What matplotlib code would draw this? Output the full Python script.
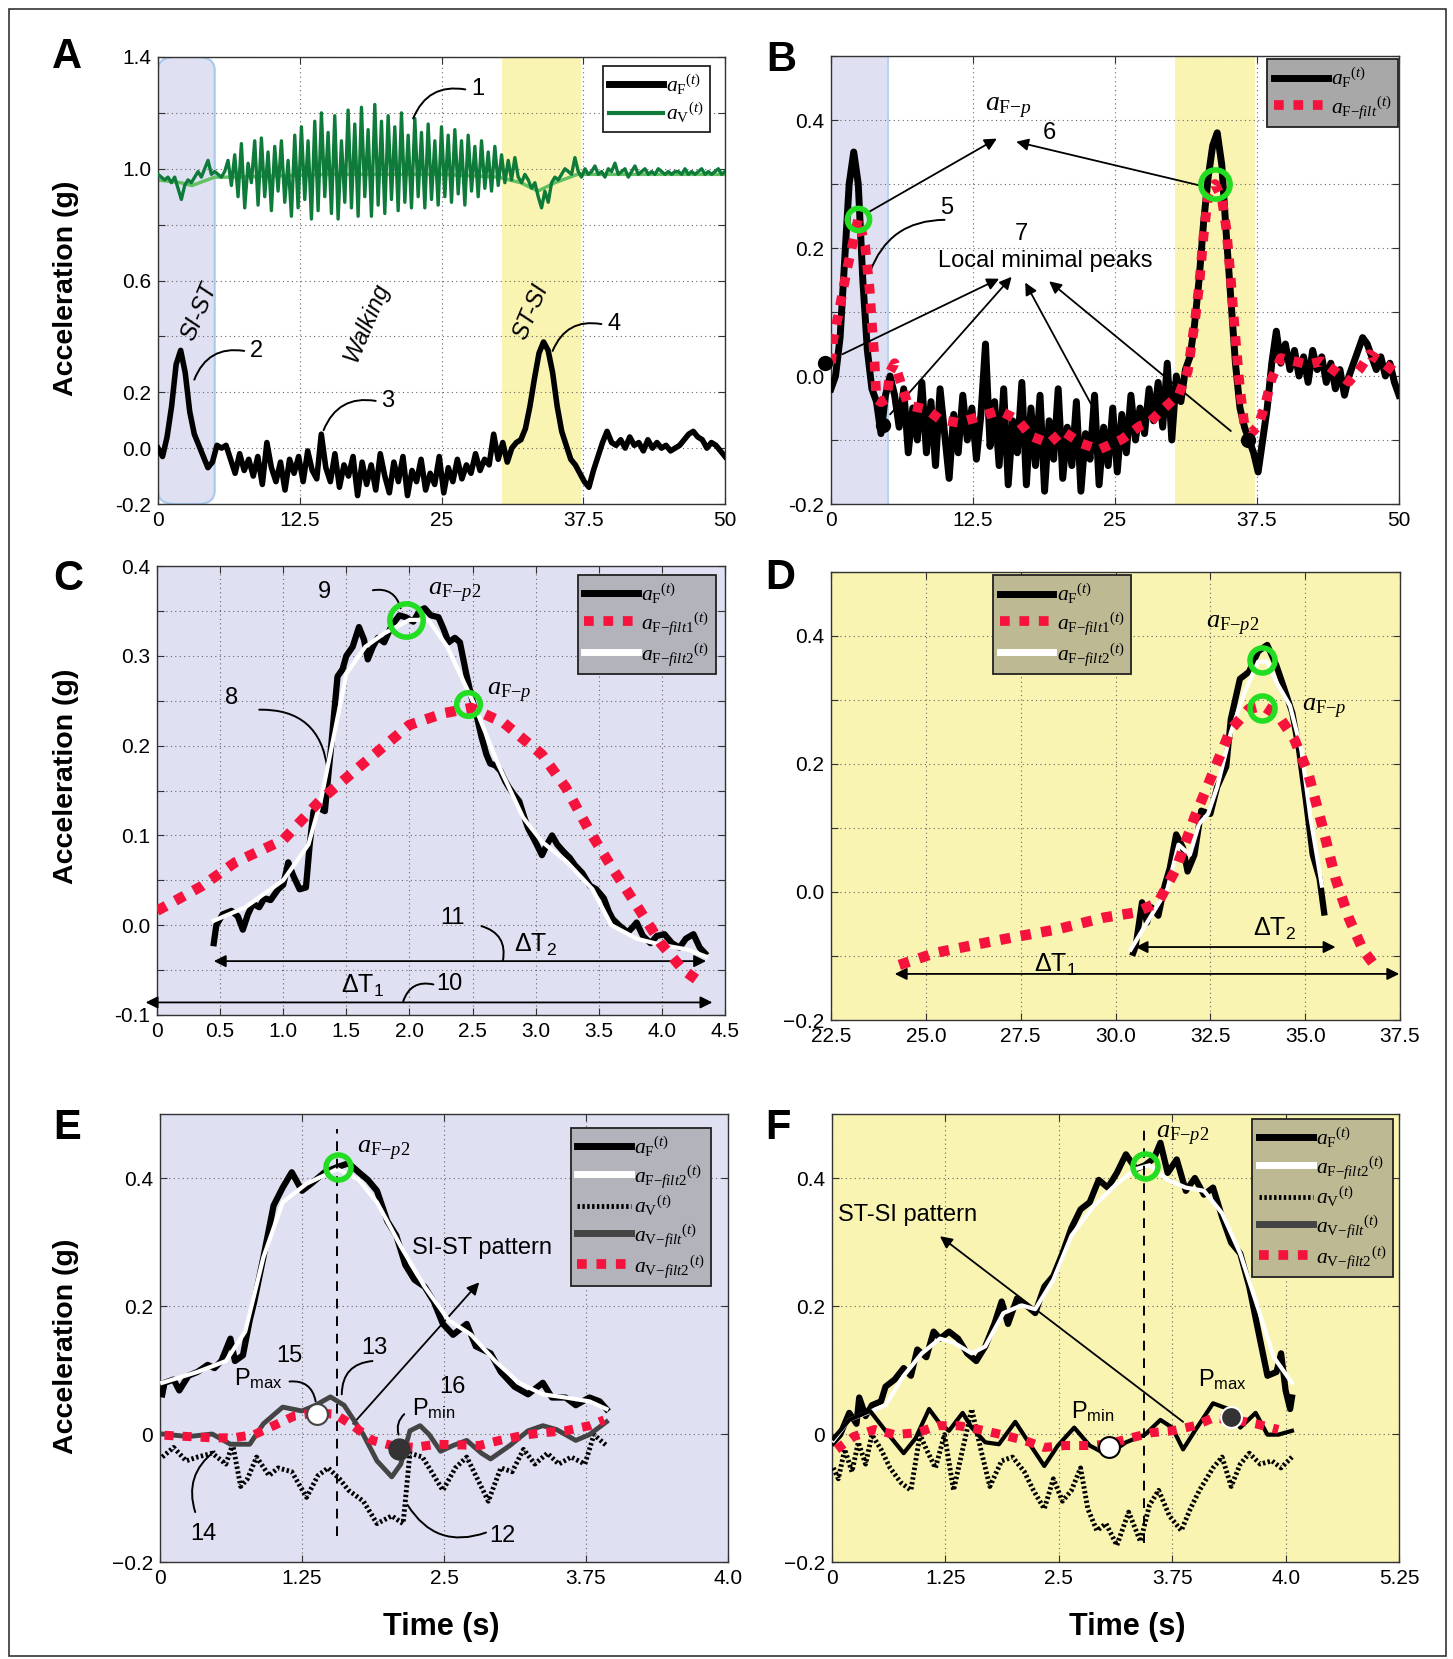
import numpy as np
import matplotlib
matplotlib.use("Agg")
import matplotlib.pyplot as plt
from matplotlib.lines import Line2D
from matplotlib.patches import Rectangle, FancyBboxPatch

# === FONTS ===
plt.rcParams["font.family"] = ["Liberation Sans", "DejaVu Sans"]
plt.rcParams["mathtext.fontset"] = "custom"
plt.rcParams["mathtext.rm"] = "Liberation Serif"
plt.rcParams["mathtext.it"] = "Liberation Serif:italic"
plt.rcParams["mathtext.bf"] = "Liberation Serif:bold"
NARROW = ["Liberation Sans Narrow", "Liberation Sans", "DejaVu Sans"]

# === COLORS ===
RED = "#f5133e"
GREEN = "#0f7b3a"
LGREEN = "#63c163"
LIME = "#22dd22"
LAVENDER = "#dfe1f3"
YELLOW = "#f9f4b1"
DARK = "#444444"
DOTS = (0, (1, 1))

# === DATA: panel A (0-50 s, uniform sampling) ===
a_af = [0.0, -0.03, 0.04, 0.15, 0.3, 0.35, 0.27, 0.13, 0.05, 0.01,
        -0.03, -0.07, -0.05, 0.01, 0.0, 0.01, -0.04, -0.09, -0.02, -0.08,
        -0.04, -0.1, -0.03, -0.13, 0.02, -0.07, -0.12, -0.05, -0.15, -0.04,
        -0.09, -0.03, -0.12, -0.01, -0.08, -0.11, 0.05, -0.07, -0.12, -0.02,
        -0.14, -0.06, -0.1, -0.03, -0.17, -0.05, -0.13, -0.06, -0.15, -0.02,
        -0.1, -0.16, -0.05, -0.12, -0.03, -0.17, -0.08, -0.12, -0.04, -0.15,
        -0.09, -0.13, -0.03, -0.16, -0.07, -0.12, -0.04, -0.11, -0.06, -0.09,
        -0.02, -0.08, -0.04, -0.06, 0.05, -0.04, 0.02, -0.05, 0.0, 0.02,
        0.03, 0.07, 0.15, 0.25, 0.34, 0.38, 0.35, 0.27, 0.15, 0.06,
        0.01, -0.04, -0.06, -0.09, -0.12, -0.14, -0.08, -0.03, 0.02, 0.06,
        0.02, 0.01, 0.03, 0.0, 0.04, 0.01, 0.02, -0.01, 0.03, 0.0,
        0.02, 0.0, 0.01, -0.01, 0.0, 0.01, 0.03, 0.05, 0.06, 0.04,
        0.03, 0.0, 0.02, 0.01, -0.01, -0.03]
a_av = [0.98, 0.97, 0.96, 0.97, 0.95, 0.97, 0.93, 0.89, 0.94, 0.96,
        0.95, 0.97, 0.99, 0.97, 1.0, 1.03, 0.98, 0.99, 0.98, 0.97,
        0.99, 1.03, 0.94, 1.05, 0.9, 1.09, 0.86, 1.02,
        0.95, 1.1, 0.87, 1.11, 0.9, 1.06, 0.85,
        1.08, 0.92, 1.1, 0.88, 1.03, 0.83, 1.12,
        0.86, 1.15, 0.89, 1.1, 0.82, 1.17, 0.85,
        1.2, 0.9, 1.13, 0.84, 1.19, 0.82, 1.1,
        0.88, 1.21, 0.86, 1.16, 0.83, 1.22, 0.9,
        1.14, 0.83, 1.23, 0.87, 1.17, 0.84, 1.19,
        0.89, 1.15, 0.85, 1.2, 0.88, 1.12, 0.86,
        1.18, 0.9, 1.13, 0.86, 1.16, 0.89, 1.1,
        0.87, 1.15, 0.9, 1.12, 0.88, 1.14, 0.91,
        1.1, 0.87, 1.12, 0.92, 1.08, 0.9, 1.1,
        0.93, 1.06, 0.92, 1.08, 0.94, 1.05, 0.95, 1.03, 0.96, 1.04,
        0.97, 0.95, 0.98, 0.96, 0.93, 0.95, 0.9, 0.86, 0.92, 0.88,
        0.95, 0.97, 0.96, 0.98, 1.0, 0.99, 0.98, 1.04, 0.99, 0.97,
        1.0, 0.98, 0.99, 1.01, 0.98, 0.99, 0.97, 1.0, 0.99, 1.02,
        0.98, 0.99, 1.0, 0.97, 0.99, 1.01, 0.98, 0.99, 1.0, 0.98,
        0.99, 0.98, 1.0, 0.99, 0.98, 0.99, 0.98, 0.99, 0.99, 0.98,
        1.0, 0.98, 0.99, 0.98, 0.99, 1.0, 0.98, 0.99, 0.98, 0.99,
        1.0, 0.98, 0.99]
a_avs_t = [0, 2, 3, 5, 7, 15, 25, 30, 32, 33.5, 35, 37, 40, 50]
a_avs = [0.96, 0.95, 0.94, 0.97, 0.97, 0.98, 0.98, 0.97, 0.95, 0.92, 0.95, 0.98, 0.98, 0.98]

# === DATA: panel B ===
b_af = [-0.02, 0.0, 0.06, 0.18, 0.3, 0.35, 0.3, 0.15, 0.04, -0.02,
        -0.04, -0.09, -0.03, 0.0, -0.03, -0.08, -0.02, -0.12, -0.05, -0.1,
        -0.01, -0.12, -0.04, -0.14, -0.02, -0.09, -0.16, -0.06, -0.12, -0.03,
        -0.1, -0.05, -0.13, -0.06, 0.05, -0.11, -0.04, -0.14, -0.02, -0.17,
        -0.07, -0.12, -0.01, -0.17, -0.05, -0.14, -0.03, -0.18, -0.07, -0.13,
        -0.02, -0.16, -0.08, -0.14, -0.04, -0.18, -0.09, -0.13, -0.03, -0.17,
        -0.08, -0.14, -0.05, -0.15, -0.06, -0.12, -0.03, -0.1, -0.05, -0.09,
        -0.02, -0.07, -0.01, -0.08, 0.02, -0.1, 0.0, -0.04, 0.01, 0.03,
        0.08, 0.15, 0.24, 0.31, 0.36, 0.38, 0.33, 0.22, 0.12, 0.02,
        -0.05, -0.08, -0.1, -0.12, -0.15, -0.1, -0.05, 0.02, 0.07, 0.02,
        0.05, 0.01, 0.04, 0.0, 0.03, -0.01, 0.04, 0.01, 0.03, -0.01,
        0.02, -0.02, 0.01, -0.03, 0.0, 0.02, 0.04, 0.06, 0.05, 0.03,
        0.01, 0.03, 0.0, 0.02, -0.01, -0.03]
b_filt_t = [0.0, 0.2, 0.6, 1.0, 1.4, 1.8, 2.4, 3.0, 3.4, 3.6, 3.8, 4.0, 4.4, 4.9, 5.2, 5.6,
            6.2, 6.8, 8.4, 9.6, 11.2, 12.8, 14.8, 16.4, 17.6, 19.2, 20.4, 22.0, 23.6,
            25.6, 27.2, 28.0, 29.2, 30.6, 31.4, 32.0, 32.4, 32.8, 33.2, 33.8, 34.4,
            34.8, 35.2, 35.6, 36.0, 36.4, 37.0, 37.6, 38.2, 38.8, 39.6, 40.8, 42.0,
            43.2, 44.4, 45.6, 46.6, 47.4, 48.4, 49.6]
b_filt = [0.02, 0.057, 0.092, 0.129, 0.166, 0.198, 0.246, 0.204, 0.135, 0.081, 0.034,
          -0.036, -0.041, -0.036, 0.007, 0.02, -0.014, -0.046, -0.052, -0.068, -0.073,
          -0.065, -0.054, -0.068, -0.094, -0.105, -0.086, -0.105, -0.115, -0.099,
          -0.078, -0.073, -0.052, -0.03, 0.007, 0.081, 0.14, 0.22, 0.283, 0.3, 0.278,
          0.23, 0.15, 0.06, -0.02, -0.078, -0.089, -0.078, -0.046, -0.004, 0.028,
          0.023, 0.018, 0.023, 0.007, -0.009, 0.012, 0.034, 0.023, 0.007]
b_peak_t = [2.4, 33.8]
b_peak_v = [0.246, 0.3]
b_min_t = [-0.5, 4.6, 36.7]
b_min_v = [0.02, -0.076, -0.1]

# === DATA: panel C (SI-ST, 0-4.5 s) ===
c_af_t = [0.45, 0.47, 0.52, 0.59, 0.64, 0.68, 0.72, 0.76, 0.81, 0.85, 0.9, 0.96, 1.0,
          1.04, 1.08, 1.13, 1.18, 1.21, 1.24, 1.29, 1.33, 1.38, 1.43, 1.47, 1.5, 1.55,
          1.6, 1.64, 1.67, 1.71, 1.75, 1.8, 1.86, 1.92, 1.97, 2.03, 2.08, 2.12, 2.17,
          2.23, 2.27, 2.31, 2.36, 2.4, 2.45, 2.49, 2.53, 2.57, 2.61, 2.64, 2.68, 2.72,
          2.76, 2.79, 2.83, 2.87, 2.91, 2.94, 2.99, 3.05, 3.09, 3.13, 3.17, 3.22, 3.27,
          3.31, 3.37, 3.43, 3.48, 3.54, 3.58, 3.61, 3.66, 3.73, 3.77, 3.8, 3.85, 3.91,
          3.96, 4.02, 4.08, 4.14, 4.19, 4.25, 4.3, 4.34]
c_af = [-0.02, 0.0, 0.012, 0.016, 0.01, -0.005, 0.012, 0.024, 0.02, 0.03, 0.028, 0.04,
        0.045, 0.07, 0.055, 0.04, 0.042, 0.09, 0.127, 0.13, 0.127, 0.2, 0.277, 0.285,
        0.3, 0.31, 0.332, 0.318, 0.296, 0.31, 0.32, 0.315, 0.334, 0.345, 0.343, 0.338,
        0.35, 0.353, 0.345, 0.343, 0.33, 0.315, 0.32, 0.315, 0.28, 0.255, 0.235, 0.21,
        0.19, 0.18, 0.178, 0.172, 0.16, 0.153, 0.145, 0.138, 0.12, 0.108, 0.095, 0.078,
        0.09, 0.1, 0.09, 0.082, 0.075, 0.067, 0.058, 0.044, 0.04, 0.03, 0.015, 0.007,
        0.0, -0.008, -0.002, 0.003, -0.012, -0.02, -0.012, -0.01, -0.02, -0.025,
        -0.015, -0.01, -0.025, -0.031]
c_f2_t = [0.45, 0.7, 1.0, 1.2, 1.3, 1.4, 1.5, 1.65, 1.8, 2.0, 2.15, 2.3, 2.5, 2.7, 2.9,
          3.05, 3.25, 3.45, 3.6, 3.8, 4.0, 4.2, 4.35]
c_f2 = [0.005, 0.02, 0.05, 0.09, 0.14, 0.21, 0.28, 0.31, 0.325, 0.34, 0.34, 0.31, 0.25,
        0.18, 0.12, 0.093, 0.07, 0.04, 0.0, -0.015, -0.022, -0.027, -0.035]
c_f1_t = [0.0, 0.36, 0.62, 1.0, 1.3, 1.6, 2.0, 2.27, 2.49, 2.75, 3.05, 3.24, 3.43, 3.61,
          3.8, 3.99, 4.17, 4.32]
c_f1 = [0.016, 0.044, 0.07, 0.095, 0.14, 0.176, 0.223, 0.236, 0.242, 0.225, 0.19, 0.153,
        0.104, 0.063, 0.022, -0.02, -0.05, -0.065]
c_peak_t = [1.97, 2.46]
c_peak_v = [0.34, 0.246]

# === DATA: panel D (ST-SI, 22.5-37.5 s) ===
d_af_t = [30.47, 30.53, 30.7, 30.83, 30.95, 31.13, 31.3, 31.43, 31.6, 31.78, 31.9, 32.08,
          32.26, 32.5, 32.68, 32.92, 33.04, 33.28, 33.52, 33.76, 34.0, 34.24, 34.42,
          34.66, 34.84, 35.02, 35.2, 35.38, 35.5]
d_af = [-0.095, -0.085, -0.016, -0.048, -0.024, -0.037, 0.011, 0.037, 0.09, 0.069, 0.032,
        0.058, 0.127, 0.122, 0.164, 0.196, 0.27, 0.333, 0.344, 0.376, 0.386, 0.354, 0.323,
        0.28, 0.222, 0.143, 0.058, 0.021, -0.032]
d_f2_t = [30.4, 30.89, 31.37, 31.66, 31.96, 32.2, 32.44, 32.68, 33.04, 33.4, 33.76, 34.0,
          34.24, 34.6, 34.9, 35.14, 35.44]
d_f2 = [-0.09, -0.042, 0.005, 0.074, 0.058, 0.106, 0.122, 0.164, 0.249, 0.312, 0.36,
        0.36, 0.328, 0.291, 0.222, 0.116, 0.01]
d_f1_t = [24.3, 25.26, 26.33, 27.29, 28.49, 29.69, 30.53, 31.13, 31.6, 32.08, 32.56, 33.04,
          33.52, 33.88, 34.3, 34.72, 35.08, 35.44, 35.8, 36.16, 36.52, 36.82]
d_f1 = [-0.114, -0.095, -0.082, -0.071, -0.058, -0.04, -0.032, -0.016, 0.037, 0.116,
        0.185, 0.254, 0.286, 0.291, 0.275, 0.238, 0.185, 0.106, 0.021, -0.042, -0.09, -0.114]
d_peak_t = [33.85, 33.85]
d_peak_v = [0.363, 0.287]

# === DATA: panel E (SI-ST pattern) ===
e_af_t = [0.02, 0.04, 0.12, 0.17, 0.25, 0.33, 0.42, 0.48, 0.54, 0.62, 0.66, 0.73, 0.79,
          0.83, 0.91, 1.0, 1.08, 1.16, 1.25, 1.33, 1.45, 1.56, 1.66, 1.75, 1.83, 1.91,
          2.0, 2.08, 2.16, 2.24, 2.33, 2.41, 2.49, 2.58, 2.7, 2.78, 2.91, 3.0, 3.12,
          3.24, 3.37, 3.45, 3.57, 3.66, 3.78, 3.87, 3.93]
e_af = [0.062, 0.08, 0.085, 0.068, 0.091, 0.097, 0.108, 0.103, 0.114, 0.149, 0.114, 0.123,
        0.178, 0.207, 0.276, 0.357, 0.385, 0.409, 0.38, 0.391, 0.409, 0.417, 0.423, 0.409,
        0.397, 0.38, 0.333, 0.31, 0.264, 0.241, 0.23, 0.207, 0.172, 0.155, 0.172, 0.137,
        0.126, 0.097, 0.074, 0.062, 0.08, 0.057, 0.057, 0.045, 0.057, 0.051, 0.039]
e_f2_t = [0.02, 0.33, 0.58, 0.75, 0.91, 1.08, 1.29, 1.56, 1.75, 1.91, 2.12, 2.33, 2.54,
          2.74, 2.95, 3.16, 3.37, 3.57, 3.78, 3.93]
e_f2 = [0.08, 0.097, 0.114, 0.16, 0.276, 0.362, 0.391, 0.414, 0.397, 0.362, 0.293, 0.23,
        0.178, 0.155, 0.114, 0.08, 0.062, 0.057, 0.051, 0.039]
e_av_t = [0.02, 0.12, 0.23, 0.33, 0.46, 0.58, 0.64, 0.71, 0.77, 0.85, 0.96, 1.04, 1.16,
          1.29, 1.39, 1.48, 1.58, 1.66, 1.79, 1.91, 2.04, 2.14, 2.2, 2.31, 2.39, 2.49,
          2.6, 2.7, 2.78, 2.89, 3.0, 3.1, 3.2, 3.3, 3.41, 3.51, 3.62, 3.74, 3.82, 3.93]
e_av = [-0.036, -0.021, -0.042, -0.036, -0.03, -0.047, -0.016, -0.082, -0.07, -0.036,
        -0.065, -0.053, -0.059, -0.099, -0.065, -0.053, -0.07, -0.088, -0.105, -0.14,
        -0.128, -0.14, -0.03, -0.036, -0.059, -0.088, -0.053, -0.036, -0.065, -0.105,
        -0.053, -0.059, -0.024, -0.047, -0.03, -0.047, -0.036, -0.047, -0.001, -0.018]
e_vf_t = [0.02, 0.25, 0.46, 0.62, 0.79, 0.91, 1.08, 1.25, 1.37, 1.5, 1.62, 1.79, 1.91,
          2.04, 2.12, 2.2, 2.29, 2.37, 2.47, 2.58, 2.7, 2.83, 2.91, 3.08, 3.24, 3.37,
          3.49, 3.66, 3.78, 3.93]
e_vf = [0.0, -0.004, 0.0, -0.016, -0.016, 0.016, 0.042, 0.036, 0.045, 0.058, 0.045,
        -0.001, -0.042, -0.067, -0.047, 0.005, 0.013, -0.001, -0.027, -0.018, -0.01,
        -0.03, -0.039, -0.018, 0.005, 0.013, 0.007, -0.01, -0.001, 0.019]
e_vf2_t = [0.04, 0.25, 0.46, 0.64, 0.83, 1.0, 1.18, 1.37, 1.54, 1.7, 1.87, 2.04, 2.24,
           2.43, 2.62, 2.81, 2.99, 3.2, 3.37, 3.57, 3.78, 3.91]
e_vf2 = [-0.002, -0.004, -0.006, -0.006, -0.001, 0.013, 0.028, 0.033, 0.031, 0.013, -0.01,
         -0.018, -0.021, -0.016, -0.017, -0.018, -0.01, -0.002, 0.002, 0.005, 0.013, 0.022]
e_peak_t, e_peak_v = 1.57, 0.417
e_pmax_t, e_pmax_v = 1.38, 0.031
e_pmin_t, e_pmin_v = 2.1, -0.024
e_vline = (1.56, -0.16, 0.477)

# === DATA: panel F (ST-SI pattern) ===
f_af_t = [0.015, 0.09, 0.19, 0.27, 0.3, 0.37, 0.44, 0.54, 0.59, 0.69, 0.79, 0.87, 0.94,
          1.04, 1.12, 1.19, 1.29, 1.39, 1.49, 1.59, 1.69, 1.79, 1.87, 1.94, 2.04, 2.14,
          2.24, 2.34, 2.44, 2.54, 2.64, 2.74, 2.84, 2.94, 3.04, 3.14, 3.24, 3.35, 3.45,
          3.55, 3.62, 3.7, 3.8, 3.9, 4.0, 4.1, 4.2, 4.3, 4.4, 4.5, 4.6, 4.7, 4.8, 4.9,
          4.95, 5.0, 5.05, 5.07]
f_af = [-0.013, -0.001, 0.033, 0.016, 0.057, 0.028, 0.045, 0.051, 0.074, 0.085, 0.103,
        0.091, 0.132, 0.12, 0.16, 0.149, 0.16, 0.149, 0.126, 0.114, 0.137, 0.172, 0.207,
        0.172, 0.212, 0.201, 0.189, 0.23, 0.247, 0.282, 0.322, 0.351, 0.362, 0.397, 0.385,
        0.408, 0.437, 0.414, 0.42, 0.431, 0.455, 0.408, 0.429, 0.38, 0.4, 0.374, 0.385,
        0.339, 0.299, 0.282, 0.23, 0.16, 0.091, 0.097, 0.126, 0.068, 0.039, 0.057]
f_f2_t = [0.015, 0.19, 0.39, 0.59, 0.79, 0.99, 1.19, 1.34, 1.54, 1.69, 1.89, 2.09, 2.24,
          2.44, 2.64, 2.89, 3.14, 3.35, 3.5, 3.7, 3.9, 4.1, 4.3, 4.5, 4.7, 4.87, 5.07]
f_f2 = [-0.01, 0.022, 0.033, 0.045, 0.091, 0.126, 0.149, 0.143, 0.126, 0.137, 0.189,
        0.201, 0.195, 0.241, 0.31, 0.357, 0.391, 0.414, 0.42, 0.397, 0.385, 0.38, 0.345,
        0.282, 0.195, 0.12, 0.08]
f_av_t = [0.015, 0.07, 0.14, 0.22, 0.29, 0.37, 0.44, 0.54, 0.64, 0.76, 0.87, 0.97, 1.04,
          1.14, 1.24, 1.34, 1.44, 1.54, 1.64, 1.74, 1.87, 1.99, 2.12, 2.22, 2.34, 2.44,
          2.54, 2.64, 2.74, 2.82, 2.92, 3.02, 3.14, 3.27, 3.4, 3.5, 3.6, 3.72, 3.85, 3.95,
          4.05, 4.2, 4.3, 4.4, 4.5, 4.6, 4.72, 4.85, 4.95, 5.07]
f_av = [-0.053, -0.07, -0.024, -0.059, -0.013, -0.047, -0.001, -0.024, -0.053, -0.076,
        -0.088, -0.001, -0.024, -0.053, -0.001, -0.088, -0.024, 0.039, -0.024, -0.082,
        -0.042, -0.036, -0.059, -0.088, -0.117, -0.07, -0.105, -0.088, -0.053, -0.117,
        -0.151, -0.14, -0.174, -0.122, -0.168, -0.111, -0.088, -0.128, -0.151, -0.117,
        -0.088, -0.053, -0.036, -0.082, -0.047, -0.03, -0.047, -0.042, -0.053, -0.036]
f_vf_t = [0.015, 0.19, 0.42, 0.59, 0.79, 0.92, 1.07, 1.19, 1.29, 1.44, 1.54, 1.69, 1.84,
          2.02, 2.19, 2.34, 2.49, 2.67, 2.84, 3.04, 3.24, 3.45, 3.62, 3.75, 3.87, 4.0,
          4.2, 4.37, 4.5, 4.67, 4.8, 4.92, 5.07]
f_vf = [-0.007, 0.022, 0.036, 0.005, -0.03, -0.007, 0.039, 0.016, 0.005, 0.033, 0.01,
        -0.013, -0.016, 0.019, -0.018, -0.05, -0.018, 0.01, -0.018, -0.033, -0.013, -0.001,
        0.022, 0.01, -0.024, 0.005, 0.048, 0.039, 0.01, 0.033, -0.001, -0.001, 0.005]
f_vf2_t = [0.05, 0.24, 0.47, 0.69, 0.94, 1.17, 1.39, 1.62, 1.87, 2.12, 2.34, 2.57, 2.82,
           3.04, 3.27, 3.52, 3.75, 4.0, 4.2, 4.45, 4.67, 4.92]
f_vf2 = [-0.024, -0.004, 0.007, -0.001, 0.002, 0.013, 0.013, 0.007, -0.001, -0.01, -0.021,
         -0.018, -0.018, -0.016, -0.007, 0.002, 0.005, 0.013, 0.025, 0.022, 0.016, 0.007]
f_peak_t, f_peak_v = 3.45, 0.419
f_pmin_t, f_pmin_v = 3.05, -0.021
f_pmax_t, f_pmax_v = 4.4, 0.027
f_vline = (3.44, -0.171, 0.477)

# === LABELS ===
LBL_AF = r"${a_{\mathrm{F}}}^{(t)}$"
LBL_AV = r"${a_{\mathrm{V}}}^{(t)}$"
LBL_AFF = r"${a_{\mathrm{F}\mathrm{-}filt}}^{(t)}$"
LBL_AFF1 = r"${a_{\mathrm{F}\mathrm{-}filt1}}^{(t)}$"
LBL_AFF2 = r"${a_{\mathrm{F}\mathrm{-}filt2}}^{(t)}$"
LBL_AVF = r"${a_{\mathrm{V}\mathrm{-}filt}}^{(t)}$"
LBL_AVF2 = r"${a_{\mathrm{V}\mathrm{-}filt2}}^{(t)}$"
LBL_P = r"$a_{\mathrm{F}\mathrm{-}p}$"
LBL_P2 = r"$a_{\mathrm{F}\mathrm{-}p2}$"
DT1 = r"$\mathregular{\Delta T_1}$"
DT2 = r"$\mathregular{\Delta T_2}$"
PMAX = r"$\mathregular{P_{max}}$"
PMIN = r"$\mathregular{P_{min}}$"

W, H = 1453, 1659
fig = plt.figure(figsize=(W / 100, H / 100), dpi=100)


def px_axes(x0, y0, x1, y1):
    return fig.add_axes([x0 / W, 1 - y1 / H, (x1 - x0) / W, (y1 - y0) / H])


def style(ax, xlim, xt, xl, ylim, yt, yl, bg="white"):
    ax.set_facecolor(bg)
    ax.set_xlim(*xlim)
    ax.set_ylim(*ylim)
    ax.set_xticks(xt)
    ax.set_xticklabels(xl, family=NARROW, fontsize=15)
    ax.set_yticks(yt)
    ax.set_yticklabels(yl, family=NARROW, fontsize=15)
    ax.tick_params(direction="in", top=True, right=True, length=5, color="#333", pad=5)
    ax.grid(True, ls=(0, (1, 3)), color="#666", lw=0.8)
    for s in ax.spines.values():
        s.set_color("#333")
        s.set_linewidth(1.0)


def legend(ax, handles, labels, loc, anchor, fc):
    leg = ax.legend(handles, labels, loc=loc, bbox_to_anchor=anchor, frameon=True,
                    fancybox=False, facecolor=fc, edgecolor="#222", framealpha=1,
                    fontsize=15.5, handlelength=2.5, handletextpad=0.15,
                    labelspacing=0.18, borderpad=0.3, borderaxespad=0)
    leg.get_frame().set_linewidth(1.3)
    leg.set_zorder(20)


def leader(ax, start, end, rad, lw=1.4):
    ax.annotate("", xy=end, xytext=start, annotation_clip=False,
                arrowprops=dict(arrowstyle="-", connectionstyle=f"arc3,rad={rad}",
                                color="black", lw=lw, shrinkA=0, shrinkB=0))


def arrow(ax, start, end, style="-|>", lw=1.3):
    ax.annotate("", xy=end, xytext=start, annotation_clip=False,
                arrowprops=dict(arrowstyle=style, color="black", lw=lw,
                                mutation_scale=18, shrinkA=0, shrinkB=0))


def green_circle(ax, t, v, size):
    ax.plot(t, v, "o", mfc="none", mec=LIME, mew=4, ms=size, zorder=10)


h_af = Line2D([], [], color="black", lw=5)
h_red = Line2D([], [], color=RED, lw=7, ls=DOTS, dash_capstyle="butt")
h_white = Line2D([], [], color="white", lw=5)
h_dot = Line2D([], [], color="black", lw=3.5, ls=(0, (0.5, 0.5)), dash_capstyle="butt")
h_dark = Line2D([], [], color=DARK, lw=5)

# ---------------- Panel A ----------------
axA = px_axes(158, 57, 725, 504)
style(axA, (0, 50), [0, 12.5, 25, 37.5, 50], ["0", "12.5", "25", "37.5", "50"],
      (-0.2, 1.4), np.arange(-0.2, 1.41, 0.2),
      ["-0.2", "0.0", "0.2", "", "0.6", "", "1.0", "", "1.4"])
axA.add_patch(FancyBboxPatch((0.0, 0.0), 0.1, 1.0, transform=axA.transAxes,
                             boxstyle="round,pad=0,rounding_size=0.03",
                             fc=LAVENDER, ec="#a9c8ee", lw=1.5, zorder=0.6))
axA.axvspan(30.3, 37.3, color=YELLOW, zorder=0.6, lw=0)
t_a = np.linspace(0, 50, len(a_af))
t_v = np.linspace(0, 50, len(a_av))
axA.plot(a_avs_t, a_avs, color=LGREEN, lw=2.5, zorder=2)
axA.plot(t_v, a_av, color=GREEN, lw=2.4, zorder=3)
axA.plot(t_a, a_af, color="black", lw=4, zorder=4)
legend(axA, [h_af, Line2D([], [], color=GREEN, lw=3)], [LBL_AF, LBL_AV],
       "upper right", (0.974, 0.98), "white")
for lab, s, e, txt in [("1", (27.1, 1.284), (22.5, 1.18), (27.6, 1.284)),
                       ("2", (7.6, 0.348), (3.2, 0.245), (8.1, 0.348)),
                       ("3", (19.2, 0.169), (14.6, 0.064), (19.7, 0.169)),
                       ("4", (39.1, 0.444), (34.8, 0.348), (39.6, 0.444))]:
    leader(axA, s, e, 0.4)
    axA.text(*txt, lab, fontsize=17, ha="left", va="center")
axA.text(3.6, 0.487, "SI-ST", rotation=67, style="italic", fontsize=17, ha="center", va="center")
axA.text(18.4, 0.45, "Walking", rotation=67, style="italic", fontsize=17, ha="center", va="center")
axA.text(32.9, 0.487, "ST-SI", rotation=67, style="italic", fontsize=17, ha="center", va="center")

# ---------------- Panel B ----------------
axB = px_axes(831, 56, 1399, 504)
style(axB, (0, 50), [0, 12.5, 25, 37.5, 50], ["0", "12.5", "25", "37.5", "50"],
      (-0.2, 0.5), np.arange(-0.2, 0.51, 0.1),
      ["-0.2", "", "0.0", "", "0.2", "", "0.4", ""])
axB.axvspan(0, 5.0, color=LAVENDER, zorder=0.6, lw=0)
axB.axvline(5.0, color="#b8d2f2", lw=1.5, zorder=0.7)
axB.axvspan(30.3, 37.3, color=YELLOW, zorder=0.6, lw=0)
t_b = np.linspace(0, 50, len(b_af))
axB.plot(t_b, b_af, color="black", lw=5, zorder=3)
axB.plot(b_filt_t, b_filt, color=RED, lw=7, ls=DOTS, dash_capstyle="butt", zorder=4)
axB.plot(b_min_t, b_min_v, "o", color="black", ms=10, zorder=6, clip_on=False)
green_circle(axB, b_peak_t[0], b_peak_v[0], 16)
green_circle(axB, b_peak_t[1], b_peak_v[1], 21)
legend(axB, [h_af, h_red], [LBL_AF, LBL_AFF], "upper right", (0.998, 0.993), "#a8a8a8")
axB.text(15.6, 0.42, LBL_P, fontsize=20, ha="center", va="center")
axB.text(19.2, 0.38, "6", fontsize=17, ha="center", va="center")
arrow(axB, (3.4, 0.257), (14.6, 0.371))
arrow(axB, (32.4, 0.298), (16.3, 0.366))
axB.text(10.2, 0.262, "5", fontsize=17, ha="center", va="center")
leader(axB, (10.0, 0.244), (3.4, 0.161), 0.35)
axB.text(16.8, 0.222, "7", fontsize=17, ha="center", va="center")
axB.text(18.9, 0.18, "Local minimal peaks", fontsize=17, ha="center", va="center")
for s, e in [((1.0, 0.034), (14.8, 0.152)), ((5.2, -0.06), (15.9, 0.155)),
             ((23.2, -0.054), (17.1, 0.146)), ((35.2, -0.086), (19.2, 0.148))]:
    arrow(axB, s, e)

# ---------------- Panel C ----------------
axC = px_axes(157, 566, 725, 1015)
style(axC, (0, 4.5), np.arange(0, 4.51, 0.5),
      ["0", "0.5", "1.0", "1.5", "2.0", "2.5", "3.0", "3.5", "4.0", "4.5"],
      (-0.1, 0.4), np.arange(-0.1, 0.401, 0.05),
      ["-0.1", "", "0.0", "", "0.1", "", "0.2", "", "0.3", "", "0.4"], bg=LAVENDER)
axC.plot(c_af_t, c_af, color="black", lw=4.5, zorder=3)
axC.plot(c_f2_t, c_f2, color="white", lw=3, zorder=4)
axC.plot(c_f1_t, c_f1, color=RED, lw=7.5, ls=DOTS, dash_capstyle="butt", zorder=5)
green_circle(axC, c_peak_t[0], c_peak_v[0], 24)
green_circle(axC, c_peak_t[1], c_peak_v[1], 17)
legend(axC, [h_af, h_red, h_white], [LBL_AF, LBL_AFF1, LBL_AFF2],
       "upper right", (0.984, 0.98), "#b3b4bb")
axC.text(1.33, 0.371, "9", fontsize=17, ha="center", va="center")
leader(axC, (1.71, 0.373), (1.93, 0.353), -0.45)
axC.text(2.36, 0.37, LBL_P2, fontsize=19, ha="center", va="center")
axC.text(2.79, 0.259, LBL_P, fontsize=19, ha="center", va="center")
axC.text(0.59, 0.253, "8", fontsize=17, ha="center", va="center")
leader(axC, (0.81, 0.24), (1.35, 0.174), -0.45)
axC.text(2.34, 0.008, "11", fontsize=17, ha="center", va="center")
leader(axC, (2.57, -0.001), (2.74, -0.04), -0.45)
axC.text(3.0, -0.022, DT2, fontsize=18, ha="center", va="center")
arrow(axC, (0.45, -0.04), (4.35, -0.04), style="<|-|>")
axC.text(1.63, -0.068, DT1, fontsize=18, ha="center", va="center")
axC.text(2.32, -0.066, "10", fontsize=17, ha="center", va="center")
leader(axC, (2.19, -0.066), (1.95, -0.085), 0.45)
arrow(axC, (-0.09, -0.086), (4.4, -0.086), style="<|-|>")

# ---------------- Panel D ----------------
axD = px_axes(831, 572, 1400, 1020)
style(axD, (22.5, 37.5), np.arange(22.5, 37.51, 2.5),
      ["22.5", "25.0", "27.5", "30.0", "32.5", "35.0", "37.5"],
      (-0.2, 0.5), np.arange(-0.2, 0.51, 0.1),
      ["\u22120.2", "", "0.0", "", "0.2", "", "0.4", ""], bg=YELLOW)
axD.plot(d_af_t, d_af, color="black", lw=4.5, zorder=3)
axD.plot(d_f2_t, d_f2, color="white", lw=3, zorder=4)
axD.plot(d_f1_t, d_f1, color=RED, lw=7.5, ls=DOTS, dash_capstyle="butt", zorder=5)
green_circle(axD, d_peak_t[0], d_peak_v[0], 18)
green_circle(axD, d_peak_t[1], d_peak_v[1], 18)
legend(axD, [h_af, h_red, h_white], [LBL_AF, LBL_AFF1, LBL_AFF2],
       "upper left", (0.285, 0.993), "#bdb993")
axD.text(33.1, 0.415, LBL_P2, fontsize=19, ha="center", va="center")
axD.text(35.5, 0.286, LBL_P, fontsize=19, ha="center", va="center")
arrow(axD, (30.53, -0.086), (35.8, -0.086), style="<|-|>")
axD.text(34.2, -0.058, DT2, fontsize=18, ha="center", va="center")
arrow(axD, (24.18, -0.128), (37.48, -0.128), style="<|-|>")
axD.text(28.43, -0.114, DT1, fontsize=18, ha="center", va="center")

# ---------------- Panel E ----------------
axE = px_axes(160, 1114, 728, 1562)
style(axE, (0, 5.0), [0, 1.25, 2.5, 3.75, 5.0], ["0", "1.25", "2.5", "3.75", "4.0"],
      (-0.2, 0.5), [-0.2, 0, 0.2, 0.4], ["\u22120.2", "0", "0.2", "0.4"], bg=LAVENDER)
axE.plot(e_av_t, e_av, color="black", lw=3.5, ls=(0, (0.5, 0.5)), dash_capstyle="butt", zorder=3)
axE.plot(e_af_t, e_af, color="black", lw=4.5, zorder=3)
axE.plot(e_f2_t, e_f2, color="white", lw=3, zorder=4)
axE.plot(e_vf_t, e_vf, color=DARK, lw=3.5, zorder=4)
axE.plot(e_vf2_t, e_vf2, color=RED, lw=6.5, ls=DOTS, dash_capstyle="butt", zorder=5)
axE.vlines(e_vline[0], e_vline[1], e_vline[2], colors="black", linestyles=(0, (5, 4)), lw=1.4, zorder=6)
green_circle(axE, e_peak_t, e_peak_v, 18)
axE.plot(e_pmax_t, e_pmax_v, "o", mfc="white", mec=DARK, mew=1.5, ms=15, zorder=8)
axE.plot(e_pmin_t, e_pmin_v, "o", mfc="#333", mec="#333", ms=15, zorder=8)
legend(axE, [h_af, h_white, h_dot, h_dark, h_red],
       [LBL_AF, LBL_AFF2, LBL_AV, LBL_AVF, LBL_AVF2], "upper right", (0.97, 0.969), "#b3b4bb")
axE.text(1.97, 0.443, LBL_P2, fontsize=19, ha="center", va="center")
axE.text(2.22, 0.29, "SI-ST pattern", fontsize=17, ha="left", va="center")
arrow(axE, (1.7, 0.016), (2.81, 0.237))
axE.text(1.14, 0.122, "15", fontsize=17, ha="center", va="center")
axE.text(0.87, 0.086, PMAX, fontsize=17, ha="center", va="center")
leader(axE, (1.14, 0.082), (1.37, 0.051), -0.45)
axE.text(1.89, 0.134, "13", fontsize=17, ha="center", va="center")
leader(axE, (1.87, 0.114), (1.6, 0.062), 0.45)
axE.text(2.57, 0.074, "16", fontsize=17, ha="center", va="center")
axE.text(2.41, 0.04, PMIN, fontsize=17, ha="center", va="center")
leader(axE, (2.15, 0.031), (2.1, -0.001), 0.3)
axE.text(0.38, -0.157, "14", fontsize=17, ha="center", va="center")
leader(axE, (0.31, -0.122), (0.48, -0.027), -0.35)
axE.text(3.01, -0.16, "12", fontsize=17, ha="center", va="center")
leader(axE, (2.87, -0.154), (2.18, -0.111), -0.4)

# ---------------- Panel F ----------------
axF = px_axes(832, 1114, 1399, 1562)
style(axF, (0, 6.25), [0, 1.25, 2.5, 3.75, 5.0, 6.25],
      ["0", "1.25", "2.5", "3.75", "4.0", "5.25"],
      (-0.2, 0.5), [-0.2, 0, 0.2, 0.4], ["\u22120.2", "0", "0.2", "0.4"], bg=YELLOW)
axF.plot(f_av_t, f_av, color="black", lw=3.5, ls=(0, (0.5, 0.5)), dash_capstyle="butt", zorder=3)
axF.plot(f_af_t, f_af, color="black", lw=4.5, zorder=3)
axF.plot(f_f2_t, f_f2, color="white", lw=3, zorder=4)
axF.plot(f_vf_t, f_vf, color="black", lw=3, zorder=4)
axF.plot(f_vf2_t, f_vf2, color=RED, lw=6.5, ls=DOTS, dash_capstyle="butt", zorder=5)
axF.vlines(f_vline[0], f_vline[1], f_vline[2], colors="black", linestyles=(0, (5, 4)), lw=1.4, zorder=6)
green_circle(axF, f_peak_t, f_peak_v, 18)
axF.plot(f_pmin_t, f_pmin_v, "o", mfc="white", mec="black", mew=1.5, ms=15, zorder=8)
axF.plot(f_pmax_t, f_pmax_v, "o", mfc="#333", mec="white", mew=1.5, ms=15, zorder=8)
legend(axF, [h_af, h_white, h_dot, h_dark, h_red],
       [LBL_AF, LBL_AFF2, LBL_AV, LBL_AVF, LBL_AVF2], "upper right", (0.989, 0.989), "#bdb993")
axF.text(3.87, 0.466, LBL_P2, fontsize=19, ha="center", va="center")
axF.text(0.07, 0.342, "ST-SI pattern", fontsize=17, ha="left", va="center")
arrow(axF, (3.87, 0.019), (1.19, 0.309))
axF.text(4.3, 0.085, PMAX, fontsize=17, ha="center", va="center")
axF.text(2.87, 0.035, PMIN, fontsize=17, ha="center", va="center")

# ---------------- figure text ----------------
for letter, x, y in [("A", 67, 57), ("B", 781, 60), ("C", 68, 579),
                     ("D", 780, 578), ("E", 67, 1128), ("F", 778, 1128)]:
    fig.text(x / W, 1 - y / H, letter, fontsize=30, fontweight="bold", ha="center", va="center")
for y in [288, 776, 1346]:
    fig.text(66 / W, 1 - y / H, "Acceleration (g)", rotation=90, fontsize=20.5,
             fontweight="bold", ha="center", va="center")
for x in [441, 1127]:
    fig.text(x / W, 1 - 1627 / H, "Time (s)", fontsize=22, fontweight="bold",
             ha="center", va="center")
fig.add_artist(Rectangle((8.5 / W, 3 / H), (1446 - 8.5) / W, (1656 - 8.5) / H,
                         transform=fig.transFigure, fill=False, ec="#333", lw=1.2))

fig.savefig("out.png", dpi=100)
